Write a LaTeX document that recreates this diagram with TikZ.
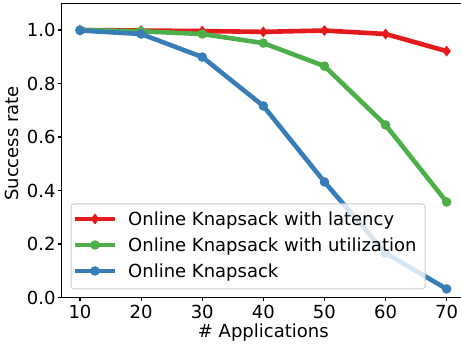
\documentclass[tikz,border=0pt]{standalone}
\usepackage{fontspec}
\setmainfont{DejaVu Sans}
\definecolor{setred}{HTML}{E41A1C}
\definecolor{setgreen}{HTML}{4DAF4A}
\definecolor{setblue}{HTML}{377EB8}
\newcommand\dotmarker[2]{\fill[#1] (#2) circle[radius=4.8pt];}
\newcommand\diamarker[2]{\fill[#1] (#2) ++(0,5.5pt) -- ++(4.3pt,-5.5pt) -- ++(-4.3pt,-5.5pt) -- ++(-4.3pt,5.5pt) -- cycle;}
\begin{document}
\begin{tikzpicture}[x=1pt,y=1pt,
  font=\fontsize{18}{21}\selectfont,
  series/.style={line width=4.6pt, line join=round},
  tick/.style={line width=1.1pt},
  ticklabel/.style={inner sep=0pt}]
\useasboundingbox (0,0) rectangle (461,347);
\clip (0,0) rectangle (461,347);
% data area: x in applications, y in success rate
\begin{scope}[xshift=18.89pt, yshift=49.5pt, x=6.111pt, y=267.5pt]
  % latency series
  \draw[series, setred] plot coordinates {(10,1.0) (20,0.998) (30,0.996) (40,0.993) (50,0.998) (60,0.985) (70,0.921)};
  \foreach \p in {{10,1.0},{20,0.998},{30,0.996},{40,0.993},{50,0.998},{60,0.985},{70,0.921}}
    {\diamarker{setred}{\p}}
  % utilization series
  \draw[series, setgreen] plot coordinates {(10,1.0) (20,0.995) (30,0.985) (40,0.951) (50,0.865) (60,0.645) (70,0.357)};
  \foreach \p in {{10,1.0},{20,0.995},{30,0.985},{40,0.951},{50,0.865},{60,0.645},{70,0.357}}
    {\dotmarker{setgreen}{\p}}
  % plain series
  \draw[series, setblue] plot coordinates {(10,0.998) (20,0.985) (30,0.899) (40,0.716) (50,0.432) (60,0.166) (70,0.032)};
  \foreach \p in {{10,0.998},{20,0.985},{30,0.899},{40,0.716},{50,0.432},{60,0.166},{70,0.032}}
    {\dotmarker{setblue}{\p}}
  % frame
  \draw[line width=1.1pt] (7,0) rectangle (73,1.1);
  % x ticks
  \foreach \t in {10,20,...,70} {
    \draw[tick] (\t,0) -- ++(0,-4pt);
    \node[ticklabel, anchor=base, yshift=-21.5pt] at (\t,0) {\t};
  }
  % y ticks
  \foreach \v/\l in {0/0.0,0.2/0.2,0.4/0.4,0.6/0.6,0.8/0.8,1.0/1.0} {
    \draw[tick] (7,\v) -- ++(-4pt,0);
    \node[ticklabel, anchor=east, xshift=-6pt] at (7,\v) {\l};
  }
  \node[ticklabel, anchor=base, yshift=-40pt] (xlab) at (40,0) {\# Applications};
  \node[ticklabel, anchor=base, rotate=90, xshift=4.3pt] (ylab) at (0,0.56) {Success rate};
\end{scope}
% legend
\draw[draw=black!20, fill=white, fill opacity=0.8, rounded corners=3pt, line width=1pt] (71,58) rectangle (425,143);
\coordinate (m1) at (95,128);
\coordinate (m2) at (95,102);
\coordinate (m3) at (95,76);
\draw[series, setred] ([xshift=-20pt]m1) -- ([xshift=20pt]m1);
\diamarker{setred}{m1}
\draw[series, setgreen] ([xshift=-20pt]m2) -- ([xshift=20pt]m2);
\dotmarker{setgreen}{m2}
\draw[series, setblue] ([xshift=-20pt]m3) -- ([xshift=20pt]m3);
\dotmarker{setblue}{m3}
\node[ticklabel, anchor=base west] (l1) at (128,121.5) {Online Knapsack with latency};
\node[ticklabel, anchor=base west] (l2) at (128,95.5) {Online Knapsack with utilization};
\node[ticklabel, anchor=base west] (l3) at (128,69.5) {Online Knapsack};
\end{tikzpicture}
\end{document}
